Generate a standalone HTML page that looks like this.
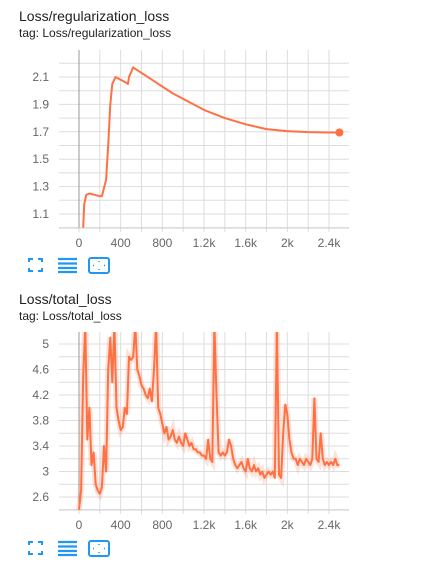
<!DOCTYPE html>
<html><head><meta charset="utf-8">
<style>
body{margin:0;width:448px;height:562px;background:#fff;font-family:"Liberation Sans",sans-serif;overflow:hidden;position:relative}
.t{position:absolute;left:19px;font-size:14px;color:#212121}
.s{position:absolute;left:19px;font-size:12px;color:#212121}
svg{position:absolute;left:0;top:0}
</style></head><body>
<div class="t" style="top:8px">Loss/regularization_loss</div>
<div class="s" style="top:26px">tag: Loss/regularization_loss</div>
<div class="t" style="top:291px">Loss/total_loss</div>
<div class="s" style="top:309px">tag: Loss/total_loss</div>
<svg id="svg" width="448" height="562"></svg>
<script>
const xTicks=[0,400,800,1200,1600,2000,2400];
const xTickLabels=["0","400","800","1.2k","1.6k","2k","2.4k"];
const regSteps=[40,50,70,100,150,200,220,260,280,300,320,350,400,450,470,480,520,560,700,800,900,1000,1200,1400,1600,1800,2000,2200,2400,2500];
const regValues=[1.0,1.17,1.24,1.25,1.24,1.23,1.23,1.35,1.6,1.9,2.05,2.1,2.08,2.06,2.05,2.1,2.17,2.15,2.08,2.03,1.98,1.94,1.86,1.8,1.755,1.72,1.705,1.698,1.695,1.695];
const regYTicks=[1.1,1.3,1.5,1.7,1.9,2.1];
const totSteps=[];for(let i=0;i<=125;i++)totSteps.push(i*20);
const totValues=[2.4,2.7,4.5,5.3,3.5,4.0,3.1,3.3,2.8,2.7,2.65,2.75,3.4,3.0,4.6,5.1,4.4,5.3,4.0,3.8,3.65,3.7,4.0,3.9,4.8,4.75,4.8,5.3,4.6,4.5,4.35,4.3,4.2,4.15,4.3,4.1,4.6,5.3,4.0,3.9,3.75,3.6,3.7,3.5,3.55,3.65,3.5,3.45,3.55,3.45,3.4,3.6,3.5,3.4,3.45,3.35,3.35,3.3,3.3,3.25,3.25,3.2,3.5,3.2,3.15,5.3,4.2,3.3,3.25,3.3,3.25,3.3,3.5,3.4,3.2,3.1,3.05,3.1,3.15,3.05,3.0,3.2,3.05,3.0,3.1,3.0,3.05,2.95,3.0,2.9,2.95,3.0,2.95,3.0,2.9,5.3,2.95,2.9,3.6,4.05,3.9,3.5,3.3,3.2,3.2,3.1,3.2,3.15,3.1,3.2,3.15,3.1,3.2,4.15,3.2,3.15,3.6,3.2,3.1,3.15,3.1,3.15,3.1,3.2,3.1,3.1];
const totYTicks=[2.6,3,3.4,3.8,4.2,4.6,5];
const totYTickLabels=["2.6","3","3.4","3.8","4.2","4.6","5"];
const NS="http://www.w3.org/2000/svg";
const svg=document.getElementById('svg');
function mk(tag,attrs,parent){const e=document.createElementNS(NS,tag);for(const k in attrs)e.setAttribute(k,attrs[k]);(parent||svg).appendChild(e);return e;}
const L=59,R=349;
const xs=v=>79+v*250/2400;
function chart(top,bottom,y0,yv0,pxPer,gridStep,ymin,ymax,yt,ytl,steps,vals,name,band){
  const ys=v=>y0-(v-yv0)*pxPer;
  const g=mk('g',{});
  
  
  for(let s=-200;s<=2600;s+=200){const x=xs(s);if(x<L||x>R)continue;const l=mk('line',{x1:x,x2:x,y1:top,y2:bottom+4,stroke:'#ddd','stroke-width':1},g);}
  for(let v=Math.ceil(ymin/gridStep)*gridStep;v<=ymax+1e-9;v+=gridStep){const y=ys(v);if(y<top||y>bottom)continue;const l=mk('line',{x1:L,x2:R,y1:y,y2:y,stroke:'#ddd','stroke-width':1},g);}
  const ax=mk('line',{x1:xs(0),x2:xs(0),y1:top,y2:bottom,stroke:'#999','stroke-width':1},g);
  const xa=mk('line',{x1:L,x2:R,y1:bottom,y2:bottom,stroke:'#ccc','stroke-width':1},g);
  xTicks.forEach((t,i)=>{const tx=mk('text',{x:xs(t),y:bottom+19,'text-anchor':'middle','font-size':12,fill:'#666','font-family':'Liberation Sans'},g);tx.textContent=xTickLabels[i];});
  yt.forEach((t,i)=>{const tx=mk('text',{x:49,y:ys(t)+4,'text-anchor':'end','font-size':12,fill:'#666','font-family':'Liberation Sans'},g);tx.textContent=ytl[i];});
  const cid='c'+name;const cp=mk('clipPath',{id:cid},g);mk('rect',{x:L,y:top,width:R-L,height:bottom-top},cp);
  const d=steps.map((s,i)=>(i?'L':'M')+xs(s).toFixed(1)+','+ys(vals[i]).toFixed(1)).join('');
  if(band){const b=mk('path',{d:d,fill:'none',stroke:'#ff7043','stroke-opacity':0.2,'stroke-width':6,'clip-path':'url(#'+cid+')'},g);}
  const p=mk('path',{d:d,fill:'none',stroke:'#ff7043','stroke-width':2,'stroke-linejoin':'round','clip-path':'url(#'+cid+')'},g);
  
  if(!band){const c=mk('circle',{cx:xs(steps[steps.length-1]),cy:ys(vals[vals.length-1]),r:4,fill:'#ff7043'},g);}
}
chart(50,228,77,2.1,137,0.1,1.0,2.3,regYTicks,regYTicks.map(v=>v.toFixed(1)),regSteps,regValues,'regularization-chart',false);
chart(332,510,344,5,63.75,0.2,2.4,5.2,totYTicks,totYTickLabels,totSteps,totValues,'total-loss-chart',true);
function icons(y){
  const g=mk('g',{fill:'none',stroke:'#2196f3','stroke-width':2});
  
  const f=mk('path',{d:`M29 ${y+4}V${y+1}H33 M38 ${y+1}H42V${y+4} M42 ${y+10}V${y+13}H38 M33 ${y+13}H29V${y+10}`},g);
  
  const m=mk('path',{d:`M58 ${y+1}H77 M58 ${y+5.5}H77 M58 ${y+10}H77 M58 ${y+14}H77`,'stroke-width':2.2},g);
  
  const r=mk('rect',{x:89,y:y,width:20,height:15,rx:2},g);
  
  mk('path',{d:`M99 ${y+3}v1 M99 ${y+11}v1 M93 ${y+7.5}h1 M104 ${y+7.5}h1`,'stroke-width':1.5},g);
}
icons(258);icons(541);
</script>
</body></html>
